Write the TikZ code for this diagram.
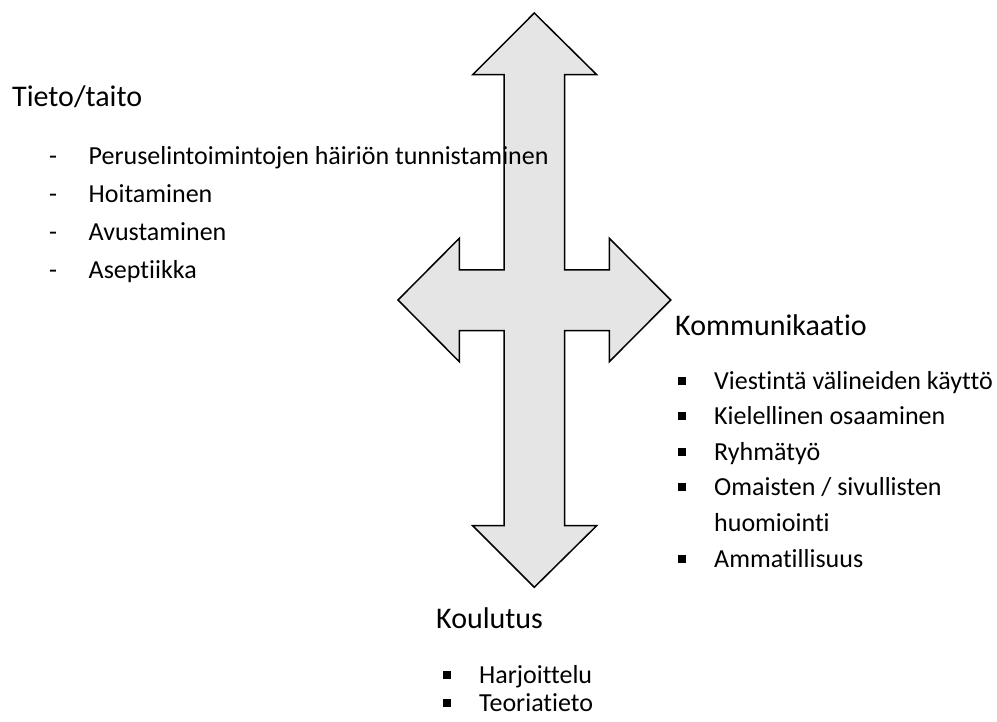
\documentclass[tikz,border=0pt]{standalone}
\usepackage{fontspec}
\setmainfont{Carlito}[RawFeature={-liga;-clig;-dlig}]
\begin{document}
\begin{tikzpicture}[x=1pt,y=-1pt,
  head/.style={anchor=base west,inner sep=0,font=\fontsize{30}{36}\selectfont},
  item/.style={anchor=base west,inner sep=0,font=\fontsize{26}{31}\selectfont},
  bul/.style={rectangle,fill=black,minimum size=8pt,inner sep=0,anchor=center},
  arrowshape/.style={fill=black!10,draw=black,line width=1.5pt,line join=miter}]
\useasboundingbox (0,0) rectangle (997,722);
% four-way arrow
\draw[arrowshape] (534.3,13) -- (596.7,74.7) -- (564.7,74.7) -- (564.7,270)
  -- (609.3,270) -- (609.3,238.3) -- (670.7,300) -- (609.3,361.7) -- (609.3,330.7)
  -- (564.7,330.7) -- (564.7,525.7) -- (596.7,525.7) -- (534.3,587.3)
  -- (472.7,525.7) -- (504,525.7) -- (504,330.7) -- (459.3,330.7) -- (459.3,361.7)
  -- (398,300) -- (459.3,238.3) -- (459.3,270) -- (504,270) -- (504,74.7)
  -- (472.7,74.7) -- cycle;
% Tieto/taito
\node[head] (th) at (12,107) {Tieto/taito};
\node[item] (td1) at (49,165) {-};
\node[item] (td2) at (49,203) {-};
\node[item] (td3) at (49,241) {-};
\node[item] (td4) at (49,279) {-};
\node[item] (t1) at (88.5,165) {Peruselintoimintojen häiriön tunnistaminen};
\node[item] (t2) at (88.5,203) {Hoitaminen};
\node[item] (t3) at (88.5,241) {Avustaminen};
\node[item] (t4) at (88.5,279) {Aseptiikka};
% Kommunikaatio
\node[head] (kh) at (675,336) {Kommunikaatio};
\node[bul] (kb1) at (682,380.5) {};
\node[bul] (kb2) at (682,416.1) {};
\node[bul] (kb3) at (682,451.7) {};
\node[bul] (kb4) at (682,487.3) {};
\node[bul] (kb5) at (682,558.5) {};
\node[item] (k1) at (714,389) {Viestintä välineiden käyttö};
\node[item] (k2) at (714,424.6) {Kielellinen osaaminen};
\node[item] (k3) at (714,460.2) {Ryhmätyö};
\node[item] (k4) at (714,495.8) {Omaisten / sivullisten};
\node[item] (k4b) at (714,531.4) {huomiointi};
\node[item] (k5) at (714,567) {Ammatillisuus};
% Koulutus
\node[head] (oh) at (436,628) {Koulutus};
\node[bul] (ob1) at (446.5,674.5) {};
\node[bul] (ob2) at (446.5,702.5) {};
\node[item] (o1) at (479,683) {Harjoittelu};
\node[item] (o2) at (479,711) {Teoriatieto};
\end{tikzpicture}
\end{document}
